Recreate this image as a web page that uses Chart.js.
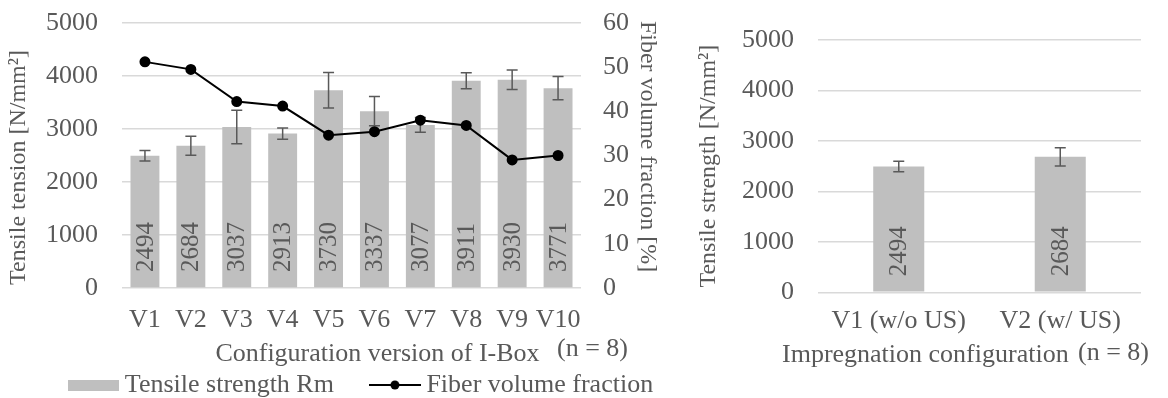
<!DOCTYPE html>
<html>
<head>
<meta charset="utf-8">
<script src="https://cdn.jsdelivr.net/npm/chart.js@4.4.1/dist/chart.umd.min.js"></script>
<style>
  html, body { margin: 0; padding: 0; background: #fff; overflow: hidden; }
  body { width: 1168px; height: 398px; position: relative; }
  #leftChart { position: absolute; left: 0; top: 0; }
  #rightChart { position: absolute; left: 690px; top: 0; }
</style>
</head>
<body>
<canvas id="leftChart" width="728" height="408"></canvas>
<canvas id="rightChart" width="478" height="398"></canvas>
<script>
const versions = ["V1", "V2", "V3", "V4", "V5", "V6", "V7", "V8", "V9", "V10"];
const tensileRm = [2494, 2684, 3037, 2913, 3730, 3337, 3077, 3911, 3930, 3771];
const tensileErr = [100, 180, 315, 105, 335, 275, 140, 150, 185, 220];
const fiberFraction = [51.2, 49.5, 42.2, 41.2, 34.6, 35.4, 38.0, 36.8, 29.0, 30.0];

const impregnation = ["V1 (w/o US)", "V2 (w/ US)"];
const impregRm = [2494, 2684];
const impregErr = [105, 180];

const FONT = "Liberation Serif";
const TEXT = "#595959";
const BAR = "#bfbfbf";
const GRID = "#d9d9d9";

Chart.defaults.font.family = FONT;
Chart.defaults.font.size = 26;
Chart.defaults.color = TEXT;

const plainTick = v => String(v);

// value labels inside bars, error bars and loose text notes
const barExtras = {
  id: "barExtras",
  afterDatasetDraw(chart, args, opts) {
    if (args.index !== 0) return;
    const ctx = chart.ctx;
    const y = chart.scales.y;
    const values = chart.data.datasets[0].data;
    const base = y.getPixelForValue(0);
    ctx.save();
    ctx.font = "25px '" + FONT + "'";
    ctx.fillStyle = TEXT;
    ctx.textAlign = "left";
    ctx.textBaseline = "middle";
    args.meta.data.forEach((bar, i) => {
      ctx.save();
      ctx.translate(bar.x, base - 16);
      ctx.rotate(-Math.PI / 2);
      ctx.fillText(String(values[i]), 0, 1);
      ctx.restore();
    });
    ctx.strokeStyle = TEXT;
    ctx.lineWidth = 1.5;
    args.meta.data.forEach((bar, i) => {
      const top = y.getPixelForValue(values[i] + opts.errors[i]);
      const bot = y.getPixelForValue(values[i] - opts.errors[i]);
      ctx.beginPath();
      ctx.moveTo(bar.x, top); ctx.lineTo(bar.x, bot);
      ctx.moveTo(bar.x - 5.5, top); ctx.lineTo(bar.x + 5.5, top);
      ctx.moveTo(bar.x - 5.5, bot); ctx.lineTo(bar.x + 5.5, bot);
      ctx.stroke();
    });
    ctx.restore();
  },
  afterDraw(chart, args, opts) {
    const ctx = chart.ctx;
    const area = chart.chartArea;
    ctx.save();
    ctx.font = "26px '" + FONT + "'";
    ctx.fillStyle = TEXT;
    ctx.textAlign = "left";
    ctx.textBaseline = "middle";
    opts.notes.forEach(n => {
      const x = (n.from === "left" ? area.left : area.right) + n.dx;
      ctx.fillText(n.text, x, area.bottom + n.dy);
    });
    ctx.restore();
  }
};

// legend symbols
const barIcon = document.createElement("canvas");
barIcon.width = 51; barIcon.height = 11;
barIcon.getContext("2d").fillStyle = BAR;
barIcon.getContext("2d").fillRect(0, 0, 51, 11);

const lineIcon = document.createElement("canvas");
lineIcon.width = 52; lineIcon.height = 12;
{
  const c = lineIcon.getContext("2d");
  c.strokeStyle = "#000"; c.lineWidth = 2;
  c.beginPath(); c.moveTo(0, 6); c.lineTo(52, 6); c.stroke();
  c.fillStyle = "#000";
  c.beginPath(); c.arc(26, 6, 4.5, 0, Math.PI * 2); c.fill();
}

new Chart(document.getElementById("leftChart").getContext("2d"), {
  type: "bar",
  data: {
    labels: versions,
    datasets: [
      {
        label: "Tensile strength Rm",
        data: tensileRm,
        backgroundColor: BAR,
        barPercentage: 0.63,
        categoryPercentage: 1,
        yAxisID: "y",
        order: 1
      },
      {
        type: "line",
        label: "Fiber volume fraction",
        data: fiberFraction,
        borderColor: "#000",
        borderWidth: 2,
        pointRadius: 4.5,
        pointBackgroundColor: "#000",
        pointBorderColor: "#000",
        yAxisID: "y1",
        tension: 0,
        order: 0
      }
    ]
  },
  options: {
    responsive: false,
    animation: false,
    layout: { padding: { top: 23, left: 0, right: 0, bottom: 0 } },
    plugins: {
      tooltip: { enabled: false },
      legend: {
        position: "bottom",
        labels: {
          usePointStyle: true,
          pointStyleWidth: 37,
          padding: 10,
          color: TEXT,
          font: { family: FONT, size: 26 },
          generateLabels: () => [
            { text: "Tensile strength Rm     ", pointStyle: barIcon, fontColor: TEXT, datasetIndex: 0, hidden: false, lineWidth: 0 },
            { text: "Fiber volume fraction", pointStyle: lineIcon, fontColor: TEXT, datasetIndex: 1, hidden: false, lineWidth: 0 }
          ]
        }
      },
      barExtras: {
        errors: tensileErr,
        notes: [{ text: "(n = 8)", from: "right", dx: -24, dy: 61.5 }]
      }
    },
    scales: {
      x: {
        grid: { display: false, drawTicks: false },
        border: { display: false },
        ticks: { padding: 16.4, color: TEXT, maxRotation: 0, minRotation: 0, autoSkip: false },
        title: { display: true, text: "        Configuration version of I-Box", color: TEXT, font: { size: 26, lineHeight: 1 }, padding: { top: 0, bottom: -5 } },
        afterFit: s => { s.height = 74; }
      },
      y: {
        position: "left",
        min: 0,
        max: 5000,
        ticks: { stepSize: 1000, padding: 0, color: TEXT, callback: plainTick },
        grid: { color: GRID, lineWidth: 1.5, drawTicks: true, tickLength: 24, tickColor: "rgba(0,0,0,0)" },
        border: { display: false },
        title: { display: true, text: "Tensile tension [N/mm²]    ", color: TEXT, font: { size: 24 }, padding: { top: 4, bottom: 4 } },
        afterFit: s => { s.width = 122; }
      },
      y1: {
        position: "right",
        min: 0,
        max: 60,
        ticks: { stepSize: 10, padding: 0, color: TEXT, callback: plainTick },
        grid: { display: true, drawOnChartArea: false, drawTicks: true, tickLength: 22, tickColor: "rgba(0,0,0,0)" },
        border: { display: false },
        title: { display: true, text: "Fiber volume fraction [%]   ", color: TEXT, font: { size: 24 }, padding: { top: 66.6, bottom: 4 } },
        afterFit: s => { s.width = 147; }
      }
    }
  },
  plugins: [barExtras]
});

new Chart(document.getElementById("rightChart").getContext("2d"), {
  type: "bar",
  data: {
    labels: impregnation,
    datasets: [
      {
        label: "Tensile strength",
        data: impregRm,
        backgroundColor: BAR,
        barPercentage: 0.316,
        categoryPercentage: 1
      }
    ]
  },
  options: {
    responsive: false,
    animation: false,
    layout: { padding: { top: 40, left: 0, right: 27, bottom: 0 } },
    plugins: {
      tooltip: { enabled: false },
      legend: { display: false },
      barExtras: {
        errors: impregErr,
        notes: [
          { text: "Impregnation configuration", from: "left", dx: -36, dy: 62.7 },
          { text: "(n = 8)", from: "right", dx: -63, dy: 60.7 }
        ]
      }
    },
    scales: {
      x: {
        grid: { display: false, drawTicks: false },
        border: { display: false },
        ticks: { padding: 13, color: TEXT, maxRotation: 0, minRotation: 0, autoSkip: false },
        afterFit: s => { s.height = 105.7; }
      },
      y: {
        min: 0,
        max: 5000,
        ticks: { stepSize: 1000, padding: 0, color: TEXT, callback: plainTick },
        grid: { color: GRID, lineWidth: 1.5, drawTicks: true, tickLength: 24, tickColor: "rgba(0,0,0,0)" },
        border: { display: false },
        title: { display: true, text: "Tensile strength [N/mm²]", color: TEXT, font: { size: 24 }, padding: { top: 4, bottom: 4 } },
        afterFit: s => { s.width = 128; }
      }
    }
  },
  plugins: [barExtras]
});
</script>
</body>
</html>
